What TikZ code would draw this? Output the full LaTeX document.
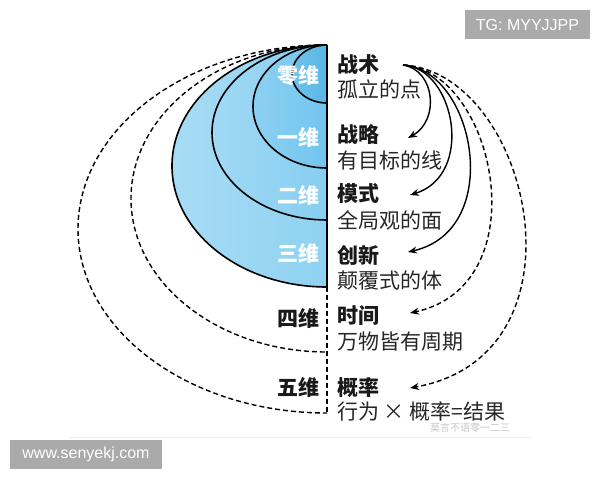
\documentclass[tikz,border=0pt]{standalone}
\usepackage{fontspec}
\setmainfont{Noto Sans CJK SC}
\newfontfamily\latinsans{Liberation Sans}
\usetikzlibrary{arrows.meta}
\definecolor{bA1}{HTML}{A8DCF5}\definecolor{bA2}{HTML}{8ED2F1}
\definecolor{bB1}{HTML}{A0D9F4}\definecolor{bB2}{HTML}{86CEF0}
\definecolor{bC1}{HTML}{8CD0F2}\definecolor{bC2}{HTML}{72C5EE}
\definecolor{bD1}{HTML}{70C2EC}\definecolor{bD2}{HTML}{58B7E6}
\definecolor{wmgray}{HTML}{AAAAAA}
\tikzset{
  ttl/.style={anchor=west, inner sep=0pt, font=\fontsize{21}{21}\selectfont\bfseries, text=black!90},
  sub/.style={anchor=west, inner sep=0pt, font=\fontsize{21}{21}\selectfont, text=black!85},
  dimw/.style={inner sep=0pt, font=\fontsize{21}{21}\selectfont\bfseries, text=white},
  dimk/.style={inner sep=0pt, font=\fontsize{21}{21}\selectfont\bfseries, text=black!90},
  ring/.style={draw=black, line width=1.6pt},
  dashring/.style={draw=black, line width=1.4pt, dash pattern=on 5pt off 3pt},
  arr/.style={line width=1.4pt, -{Stealth[length=9pt,width=7pt]}},
  dasharr/.style={arr, dash pattern=on 5pt off 3pt},
  wm/.style={fill=wmgray, text=white, font=\latinsans\fontsize{16}{16}\selectfont, inner sep=0pt, minimum height=29pt}
}
\begin{document}
\begin{tikzpicture}[x=1pt,y=-1pt]
\useasboundingbox[fill=white] (0,0) rectangle (600,480);
% faint frame line
\draw[black!7, line width=0.8pt] (70,437) -- (532,437);
% dashed outer shells
\draw[dashring] (327,45) arc[start angle=270, end angle=90, x radius=249, y radius=184];
\draw[dashring] (327,45) arc[start angle=270, end angle=90, x radius=196, y radius=153.5];
% filled shells
\shade[left color=bA1, right color=bA2] (327,45) arc[start angle=270, end angle=90, x radius=155, y radius=121] -- cycle;
\shade[left color=bB1, right color=bB2] (327,45) arc[start angle=270, end angle=90, x radius=115, y radius=87.5] -- cycle;
\shade[left color=bC1, right color=bC2] (327,45) arc[start angle=270, end angle=90, x radius=74, y radius=61.5] -- cycle;
\shade[left color=bD1, right color=bD2] (327,45) arc[start angle=270, end angle=90, x radius=35, y radius=29] -- cycle;
\draw[ring] (327,45) arc[start angle=270, end angle=90, x radius=155, y radius=121];
\draw[ring] (327,45) arc[start angle=270, end angle=90, x radius=115, y radius=87.5];
\draw[ring] (327,45) arc[start angle=270, end angle=90, x radius=74, y radius=61.5];
\draw[ring] (327,45) arc[start angle=270, end angle=90, x radius=35, y radius=29];
% axis
\draw[line width=1.6pt] (327,44.5) -- (327,287);
\draw[dashring] (327,287) -- (327,413);
% dimension labels
\node[dimw] (d0) at (298,76) {零维};
\node[dimw] (d1) at (298,137) {一维};
\node[dimw] (d2) at (298,195) {二维};
\node[dimw] (d3) at (298,253) {三维};
\node[dimk] (d4) at (298,318) {四维};
\node[dimk] (d5) at (298,387) {五维};
% right texts
\node[ttl] (t0) at (337,65) {战术};
\node[sub] (s0) at (337,89) {孤立的点};
\node[ttl] (t1) at (337,135) {战略};
\node[sub] (s1) at (337,160) {有目标的线};
\node[ttl] (t2) at (337,193) {模式};
\node[sub] (s2) at (337,220) {全局观的面};
\node[ttl] (t3) at (337,255) {创新};
\node[sub] (s3) at (337,280) {颠覆式的体};
\node[ttl] (t4) at (337,316) {时间};
\node[sub] (s4) at (337,342) {万物皆有周期};
\node[ttl] (t5) at (337,388) {概率};
\node[sub] (s5) at (337,411) {行为 × 概率=结果};
% arrows
\coordinate (st) at (403,65);
\coordinate (e1) at (408,138);
\coordinate (e2) at (410,195);
\coordinate (e3) at (408,252);
\coordinate (e4) at (410,313);
\coordinate (e5) at (410,388);
\draw[arr] (st) .. controls (435,70) and (440,120) .. (e1);
\draw[arr] (st) .. controls (455,68) and (475,175) .. (e2);
\draw[arr] (st) .. controls (475,70) and (505,230) .. (e3);
\draw[dasharr] (st) .. controls (495,70) and (540,285) .. (e4);
\draw[dasharr] (st) .. controls (530,72) and (595,355) .. (e5);
% watermarks
\node[wm, minimum width=125pt] (wm1) at (527.5,24.5) {TG: MYYJJPP};
\node[wm, minimum width=152pt] (wm2) at (86,454.5) {www.senyekj.com};
\node[font=\fontsize{10}{10}\selectfont, text=black!22, inner sep=0pt] (wm3) at (470,428) {莫言不语零一二三};
\end{tikzpicture}
\end{document}
